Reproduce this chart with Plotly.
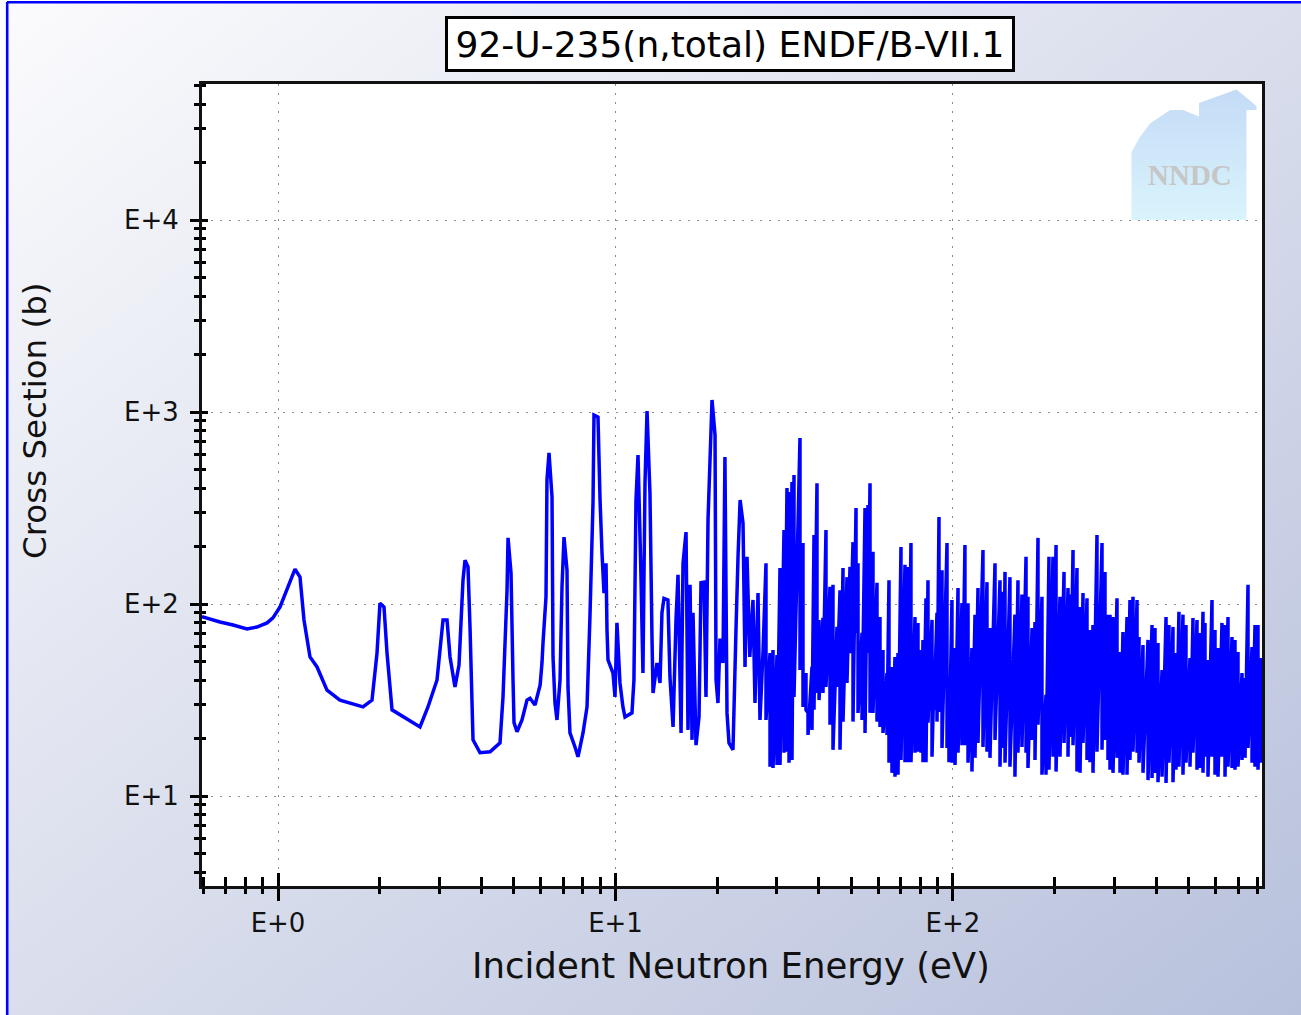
import base64
import plotly.graph_objects as go

# U-235 total cross section, ENDF/B-VII.1, 0.6 eV - 820 eV
# Low-energy part: thermal tail and the first resolved resonances (eV, barns)
low_energy = [
    0.595, 0.673, 0.736, 0.809, 0.866, 0.928, 0.966, 1.014, 1.123, 1.162,
    1.194, 1.244, 1.305, 1.397, 1.526, 1.786, 1.899, 1.965, 2.005, 2.061,
    2.104, 2.177, 2.635, 2.782, 2.959, 3.083, 3.168, 3.234, 3.345, 3.438,
    3.533, 3.582, 3.656, 3.706, 3.783, 3.968, 4.249, 4.548, 4.642, 4.771,
    4.804, 4.903, 4.970, 5.004, 5.107, 5.284, 5.468, 5.58, 5.774, 5.98,
    6.056, 6.098, 6.224, 6.266, 6.353, 6.485, 6.529, 6.618, 6.709, 6.85,
    6.942, 7.038, 7.183, 7.232, 7.33, 7.586, 7.743, 8.012, 8.234, 8.40,
    8.577, 8.636, 8.874, 9.00, 9.12, 9.245, 9.373, 9.437, 9.502, 9.83,
    9.966, 10.10, 10.31, 10.52, 10.67, 11.19, 11.34, 11.50, 11.66, 11.90,
    12.06, 12.23, 12.40, 12.65, 12.83, 12.92, 13.27, 13.55, 13.73, 13.92,
    14.30, 14.50, 14.81, 15.11, 15.32, 15.64, 15.85, 16.18, 16.40, 16.63,
    16.86, 16.97, 17.32, 17.68, 17.92, 18.29, 18.54, 18.80, 19.32, 19.72,
    19.86, 20.12, 20.40, 20.82, 21.10, 21.40, 21.69, 22.29, 22.75, 23.07,
    23.40, 23.87, 24.20, 24.53, 25.00, 25.55, 25.90, 26.44, 26.80, 27.35,
]
low_xs = [
    86.0, 80.6, 77.7, 74.1, 75.9, 79.7, 84.6, 96.5, 152, 138,
    82.6, 53.0, 47.0, 35.6, 31.6, 29.1, 31.6, 55.5, 101, 96.5,
    55.5, 28.1, 22.9, 29.1, 40.2, 82.6, 82.6, 53.0, 37.0, 48.1,
    133, 169, 156, 75.9, 19.6, 16.8, 17.0, 18.9, 32.8, 118,
    221, 145, 40.2, 24.1, 21.6, 24.9, 31.6, 32.3, 29.8, 37.9,
    49.3, 62.7, 109, 443, 612, 361, 53.0, 30.5, 24.9, 40.2,
    123, 223, 150, 37.0, 21.3, 18.0, 16.0, 21.3, 29.1, 85.5,
    336, 964, 941, 348, 185, 114, 163, 73.3, 51.1, 43.7,
    32.8, 79.7, 38.8, 29.1, 25.8, 27.1, 40.2, 348, 597, 138,
    43.7, 427, 1010, 379, 65.0, 34.4, 49.3, 38.8, 90.0, 107,
    105, 41.7, 22.9, 82.6, 142, 21.3, 163, 237, 22.1, 126,
    19.6, 90.0, 18.4, 25.8, 129, 130, 32.8, 274, 1155, 759,
    40.2, 30.5, 66.0, 49.3, 583, 27.1, 18.9, 17.4, 73.3, 176,
    348, 264, 47.0, 176, 53.0, 105, 30.5, 114, 24.9, 55.5,
]

# Dense resonance region: each resonance drawn as a peak value and the
# dip that follows it at the same energy (eV, barns)
band_energy = [
    27.92, 28.70, 29.29, 30.10, 30.72, 31.57, 32.22, 32.67, 33.34, 33.80,
    35.21, 35.94, 36.68, 37.19, 38.21, 38.74, 39.54, 40.09, 41.19, 42.04,
    43.21, 44.10, 45.32, 46.26, 47.22, 48.52, 49.53, 50.55, 51.60, 52.31,
    53.76, 54.87, 56.00, 56.77, 57.94, 59.54, 60.77, 62.03, 63.74, 64.62,
    65.95, 67.31, 68.71, 70.13, 72.07, 73.56, 75.08, 77.16, 78.76, 80.38,
    81.49, 83.18, 84.32, 86.66, 87.84, 89.66, 90.89, 92.78, 96.00, 97.30,
    99.30, 101.4, 103.5, 106.3, 108.5, 110.8, 113.8, 116.2, 118.6, 122.7,
    126.1, 128.7, 133.2, 137.8, 140.7, 142.6, 147.5, 152.6, 155.8, 160.1,
    164.6, 166.8, 171.5, 175.0, 178.6, 183.5, 188.6, 192.5, 197.8, 202.0,
    207.5, 213.3, 219.2, 222.2, 226.8, 233.0, 237.9, 242.8, 249.5, 254.6,
    259.9, 267.1, 276.4, 282.1, 287.9, 291.9, 297.9, 306.2, 312.5, 318.9,
    327.8, 334.5, 341.5, 351.0, 355.8, 365.6, 378.3, 388.8, 396.8, 405.0,
    416.3, 427.8, 436.5, 448.6, 457.8, 467.2, 480.2, 490.2, 503.8, 514.2,
    528.4, 539.5, 550.5, 558.1, 569.6, 585.4, 597.5, 609.9, 626.7, 639.7,
    652.9, 671.0, 684.8, 699.0, 718.4, 733.3, 748.4, 769.2, 785.0, 801.2,
    817.7, 840.0,
]
band_top = [
    163, 55.5, 57.6, 54.2, 154, 243, 402, 383, 432, 470,
    732, 208, 43.7, 27.1, 47.0, 229, 426, 82.6, 84.6, 243,
    123, 126, 76.0, 118, 154, 138, 156, 210, 316, 163,
    70.7, 316, 328, 426, 187, 129, 85.5, 57.6, 43.7, 133,
    47.0, 53.0, 55.5, 198, 160, 156, 208, 85.5, 79.7, 57.6,
    65.0, 107, 133, 82.6, 41.7, 90.0, 284, 150, 208, 41.7,
    105, 59.0, 121, 101, 203, 101, 59.0, 88.0, 121, 191,
    130, 75.0, 163, 133, 116, 147, 138, 88.0, 133, 112,
    176, 109, 75.0, 80.6, 221, 109, 33.6, 176, 176, 203,
    109, 147, 121, 112, 191, 154, 96.5, 114, 107, 73.3,
    77.7, 229, 208, 147, 88.0, 88.0, 85.5, 107, 56.2, 71.5,
    85.5, 105, 109, 105, 67.3, 61.2, 65.0, 77.7, 75.0, 62.7,
    45.3, 85.5, 77.7, 76.0, 55.5, 91.0, 88.0, 77.7, 52.3, 84.6,
    82.6, 70.7, 91.0, 79.7, 51.1, 105, 73.3, 59.0, 79.7, 77.7,
    85.5, 67.3, 65.0, 56.2, 43.7, 41.2, 126, 59.7, 77.7, 77.7,
    52.3, 65.0,
]
band_bottom = [
    24.9, 14.2, 14.0, 14.5, 14.5, 16.8, 17.0, 14.9, 15.4, 32.8,
    45.3, 29.1, 28.1, 20.8, 22.1, 28.1, 34.4, 31.6, 34.4, 37.0,
    23.5, 17.4, 37.0, 17.4, 24.4, 38.8, 55.5, 24.4, 70.7, 27.1,
    24.9, 21.3, 55.5, 27.1, 27.1, 24.4, 22.9, 21.3, 20.8, 14.9,
    13.2, 12.6, 12.9, 15.4, 15.0, 15.0, 15.0, 16.8, 17.0, 16.8,
    15.0, 15.0, 24.1, 16.0, 28.1, 24.4, 27.4, 17.8, 17.8, 15.0,
    14.9, 14.5, 16.8, 18.4, 18.4, 14.9, 13.4, 15.8, 18.9, 18.0,
    17.0, 15.8, 19.6, 14.2, 17.8, 14.9, 14.2, 12.6, 16.8, 18.0,
    16.8, 14.0, 19.6, 15.4, 23.5, 12.9, 12.9, 13.7, 16.0, 13.4,
    16.0, 18.9, 16.0, 20.3, 18.4, 13.4, 13.2, 18.9, 15.4, 15.0,
    13.2, 17.0, 17.4, 19.6, 15.4, 13.7, 13.2, 15.8, 13.2, 12.9,
    12.9, 15.4, 17.0, 16.8, 14.9, 13.2, 12.1, 12.4, 13.2, 11.8,
    12.6, 11.7, 14.9, 11.8, 13.7, 14.2, 12.9, 14.9, 14.2, 16.8,
    13.7, 14.0, 13.2, 16.0, 12.6, 16.0, 12.9, 12.6, 16.0, 12.6,
    14.2, 14.0, 13.7, 14.2, 15.4, 15.8, 17.8, 14.9, 14.2, 13.7,
    14.9, 15.4,
]

x_tick_vals = [1, 10, 100]
x_tick_text = ["E+0", "E+1", "E+2"]
y_tick_vals = [10, 100, 1000, 10000]
y_tick_text = ["E+1", "E+2", "E+3", "E+4"]

title_text = "92-U-235(n,total) ENDF/B-VII.1"
x_title = "Incident Neutron Energy (eV)"
y_title = "Cross Section (b)"

# ---- assemble the polyline ------------------------------------------
energy = list(low_energy)
xs = list(low_xs)
for e, hi, lo in zip(band_energy, band_top, band_bottom):
    energy += [e, e]
    xs += [hi, lo]

# ---- page geometry ---------------------------------------------------
FIG_W, FIG_H = 1301, 1015
L, R, T, B = 202, 39, 84, 129
PW, PH = FIG_W - L - R, FIG_H - T - B


def px(x):
    return (x - L) / PW


def py(y):
    return (FIG_H - B - y) / PH


X_RANGE = [-0.2252, 2.9156]
Y_RANGE = [0.5313, 4.7083]

x_minor = [m * d for d in (0.1, 1, 10, 100) for m in range(2, 10)
           if 0.597 < m * d < 820]
y_minor = [m * d for d in (1, 10, 100, 1000, 10000) for m in range(2, 10)
           if 3.5 < m * d < 51000]

# page background: diagonal gradient, blue frame, white plot area, NNDC badge
bg_svg = f'''<svg xmlns="http://www.w3.org/2000/svg" width="{FIG_W}" height="{FIG_H}" viewBox="0 0 {FIG_W} {FIG_H}">
<defs>
<linearGradient id="g" x1="0" y1="0" x2="1" y2="1">
<stop offset="0" stop-color="#fbfbfd"/><stop offset="1" stop-color="#b8c1dc"/>
</linearGradient>
<linearGradient id="h" x1="0" y1="0" x2="0" y2="1">
<stop offset="0" stop-color="#c4dbf6"/><stop offset="1" stop-color="#d9f4fc"/>
</linearGradient>
</defs>
<rect width="{FIG_W}" height="{FIG_H}" fill="#ffffff"/>
<rect x="8" y="3" width="{FIG_W - 8}" height="{FIG_H - 3}" fill="url(#g)"/>
<line x1="7" y1="2.2" x2="{FIG_W}" y2="2.2" stroke="#0000ff" stroke-width="2.6"/>
<line x1="7.2" y1="2" x2="7.2" y2="{FIG_H}" stroke="#0000ff" stroke-width="2.6"/>
<rect x="{L}" y="{T}" width="{PW}" height="{PH}" fill="#ffffff"/>
<path d="M1131.5,220 L1131.5,152 L1140,137 L1150,123.5 L1170,110 L1183,110 L1199,116.5 L1199,103 L1217,96.5 L1236.5,89.5 L1256.5,106 L1256.5,110 L1246.5,110 L1246.5,220 Z" fill="url(#h)"/>
</svg>'''
bg_uri = "data:image/svg+xml;base64," + base64.b64encode(bg_svg.encode()).decode()

FONT = "DejaVu Sans"

fig = go.Figure()
fig.add_trace(go.Scatter(
    x=energy, y=xs, mode="lines",
    line=dict(color="#0000ff", width=3.5, simplify=False),
    showlegend=False, hoverinfo="skip",
))
# carrier for the inner tick marks
fig.add_trace(go.Scatter(
    x=[1], y=[10], xaxis="x2", yaxis="y2", mode="markers",
    marker=dict(opacity=0), showlegend=False, hoverinfo="skip",
))

grid = dict(showgrid=True, gridcolor="#8a8a8a", gridwidth=1.3, griddash="1.5px,7.5px")

fig.update_layout(
    width=FIG_W, height=FIG_H,
    margin=dict(l=L, r=R, t=T, b=B, pad=0),
    paper_bgcolor="#ffffff",
    plot_bgcolor="rgba(0,0,0,0)",
    font=dict(family=FONT, color="#000000"),
    xaxis=dict(
        type="log", range=X_RANGE, **grid,
        showline=True, linecolor="#111111", linewidth=3, mirror=True,
        tickvals=x_tick_vals, ticktext=x_tick_text,
        ticks="outside", ticklen=12, tickwidth=3, tickcolor="#000000",
        tickfont=dict(family=FONT, size=26, color="#111111"),
        ticklabelstandoff=0,
        minor=dict(tickvals=x_minor, ticks="outside", ticklen=5, tickwidth=3,
                   tickcolor="#000000", showgrid=False),
        zeroline=False, fixedrange=True,
    ),
    yaxis=dict(
        type="log", range=Y_RANGE, **grid,
        showline=True, linecolor="#111111", linewidth=3, mirror=True,
        tickvals=y_tick_vals, ticktext=y_tick_text,
        ticks="outside", ticklen=9, tickwidth=3, tickcolor="#000000",
        tickfont=dict(family=FONT, size=26, color="#111111"),
        ticklabelstandoff=6,
        minor=dict(tickvals=y_minor, ticks="outside", ticklen=5, tickwidth=3,
                   tickcolor="#000000", showgrid=False),
        zeroline=False, fixedrange=True,
    ),
    xaxis2=dict(
        type="log", range=X_RANGE, overlaying="x", anchor="y", side="bottom",
        showgrid=False, showline=False, zeroline=False, showticklabels=False,
        tickvals=x_tick_vals, ticks="inside", ticklen=13, tickwidth=3,
        tickcolor="#000000",
        minor=dict(tickvals=x_minor, ticks="inside", ticklen=9, tickwidth=3,
                   tickcolor="#000000", showgrid=False),
        fixedrange=True,
    ),
    yaxis2=dict(
        type="log", range=Y_RANGE, overlaying="y", anchor="x", side="left",
        showgrid=False, showline=False, zeroline=False, showticklabels=False,
        tickvals=y_tick_vals, ticks="inside", ticklen=6, tickwidth=3,
        tickcolor="#000000",
        minor=dict(tickvals=y_minor, ticks="inside", ticklen=4, tickwidth=3,
                   tickcolor="#000000", showgrid=False),
        fixedrange=True,
    ),
    images=[dict(
        source=bg_uri, xref="paper", yref="paper",
        x=px(0), y=py(0), sizex=FIG_W / PW, sizey=FIG_H / PH,
        xanchor="left", yanchor="top", sizing="stretch", layer="below",
    )],
    annotations=[
        dict(text=title_text, xref="paper", yref="paper",
             x=px(730), y=py(44), xanchor="center", yanchor="middle",
             showarrow=False, font=dict(family=FONT, size=36, color="#000000"),
             width=558, height=44,
             bgcolor="#ffffff", bordercolor="#000000", borderwidth=3, borderpad=3),
        dict(text=x_title, xref="paper", yref="paper",
             x=px(731), y=py(965), xanchor="center", yanchor="middle",
             showarrow=False, font=dict(family=FONT, size=35.5, color="#111111")),
        dict(text=y_title, xref="paper", yref="paper", textangle=-90,
             x=px(35), y=py(421), xanchor="center", yanchor="middle",
             showarrow=False, font=dict(family=FONT, size=32.5, color="#111111")),
        dict(text="NNDC", xref="paper", yref="paper",
             x=px(1190), y=py(175), xanchor="center", yanchor="middle",
             showarrow=False,
             font=dict(family="Liberation Serif", size=29, color="#c6c6c6",
                       weight="bold")),
    ],
)

fig.write_html("out.html")
